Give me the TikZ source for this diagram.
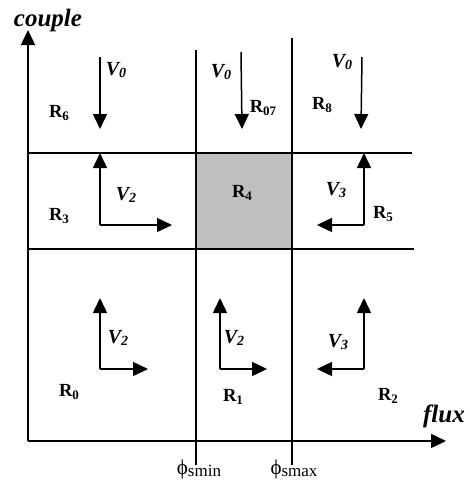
\documentclass[tikz,border=0pt]{standalone}
\usepackage{fontspec}
\setmainfont{Liberation Serif}
\usetikzlibrary{arrows.meta}
\newcommand{\mysub}[2][13]{\raisebox{-0.3ex}{\fontsize{#1}{#1}\selectfont #2}}
\begin{document}
\begin{tikzpicture}[x=1pt,y=-1pt,
  gridline/.style={line width=1.5pt},
  vec/.style={line width=1.5pt,-{Triangle[length=15pt,width=14pt]}},
  reg/.style={font=\fontsize{18.5}{18.5}\selectfont\bfseries, inner sep=0pt},
  vlab/.style={font=\fontsize{20}{20}\selectfont\bfseries\itshape, inner sep=0pt},
  axlab/.style={font=\fontsize{25}{25}\selectfont\bfseries\itshape, inner sep=0pt},
  philab/.style={font=\fontsize{21}{21}\selectfont, inner sep=0pt}]
\fill[white] (0,0) rectangle (470,480);
\useasboundingbox (0,0) rectangle (470,480);
% shaded R4
\fill[black!25] (196,153) rectangle (292,249);
% grid lines
\coordinate (v1t) at (196,50);  \coordinate (v1b) at (196,465);
\coordinate (v2t) at (292,38);  \coordinate (v2b) at (292,465);
\coordinate (h1l) at (28,153);  \coordinate (h1r) at (412,153);
\coordinate (h2l) at (28,249);  \coordinate (h2r) at (414,249);
\draw[gridline] (v1t) -- (v1b);
\draw[gridline] (v2t) -- (v2b);
\draw[gridline] (h1l) -- (h1r);
\draw[gridline] (h2l) -- (h2r);
% axes
\coordinate (O) at (28,441);
\coordinate (ytip) at (28,30);
\coordinate (xtip) at (446,441);
\draw[vec] (O) -- (ytip);
\draw[vec] (O) -- (xtip);
\node[axlab] (couple) at (48,20) {couple};
\node[axlab] (flux) at (444,416) {flux};
\node[philab] (pmin) at (199,469) {ϕ\mysub[17]{smin}};
\node[philab] (pmax) at (294,469) {ϕ\mysub[17]{smax}};
% V0 arrows
\coordinate (a1s) at (100,57);  \coordinate (a1e) at (100,129);
\coordinate (a2s) at (241,52);  \coordinate (a2e) at (242,129);
\coordinate (a3s) at (362,57);  \coordinate (a3e) at (361,129);
\draw[vec] (a1s) -- (a1e);
\draw[vec] (a2s) -- (a2e);
\draw[vec] (a3s) -- (a3e);
% corner arrows
\coordinate (c3) at (100,225);
\coordinate (c3u) at (100,153); \coordinate (c3r) at (172,225);
\coordinate (c5) at (364,225);
\coordinate (c5u) at (364,153); \coordinate (c5l) at (317,225);
\coordinate (c0) at (100,369);
\coordinate (c0u) at (100,298); \coordinate (c0r) at (148,369);
\coordinate (c1) at (220,369);
\coordinate (c1u) at (220,298); \coordinate (c1r) at (267,369);
\coordinate (c2) at (364,369);
\coordinate (c2u) at (364,298); \coordinate (c2l) at (317,369);
\foreach \c/\u/\s in {c3/c3u/c3r, c5/c5u/c5l, c0/c0u/c0r, c1/c1u/c1r, c2/c2u/c2l}{
  \draw[vec] (\c) -- (\u);
  \draw[vec] (\c) -- (\s);
}
% V labels
\node[vlab] (v0a) at (116,70) {V\mysub[14]{0}};
\node[vlab] (v0b) at (221,72) {V\mysub[14]{0}};
\node[vlab] (v0c) at (342,62) {V\mysub[14]{0}};
\node[vlab] (v2a) at (126,195) {V\mysub[14]{2}};
\node[vlab] (v3a) at (336,190) {V\mysub[14]{3}};
\node[vlab] (v2b) at (118,338) {V\mysub[14]{2}};
\node[vlab] (v2c) at (234,338) {V\mysub[14]{2}};
\node[vlab] (v3b) at (338,342) {V\mysub[14]{3}};
% region labels
\node[reg] (R6) at (59,113) {R\mysub{6}};
\node[reg] (R07) at (263,108) {R\mysub{07}};
\node[reg] (R8) at (322,105) {R\mysub{8}};
\node[reg] (R3) at (59,216) {R\mysub{3}};
\node[reg] (R4) at (242,193) {R\mysub{4}};
\node[reg] (R5) at (383,214) {R\mysub{5}};
\node[reg] (R0) at (69,392) {R\mysub{0}};
\node[reg] (R1) at (233,397) {R\mysub{1}};
\node[reg] (R2) at (388,396) {R\mysub{2}};
\end{tikzpicture}
\end{document}
